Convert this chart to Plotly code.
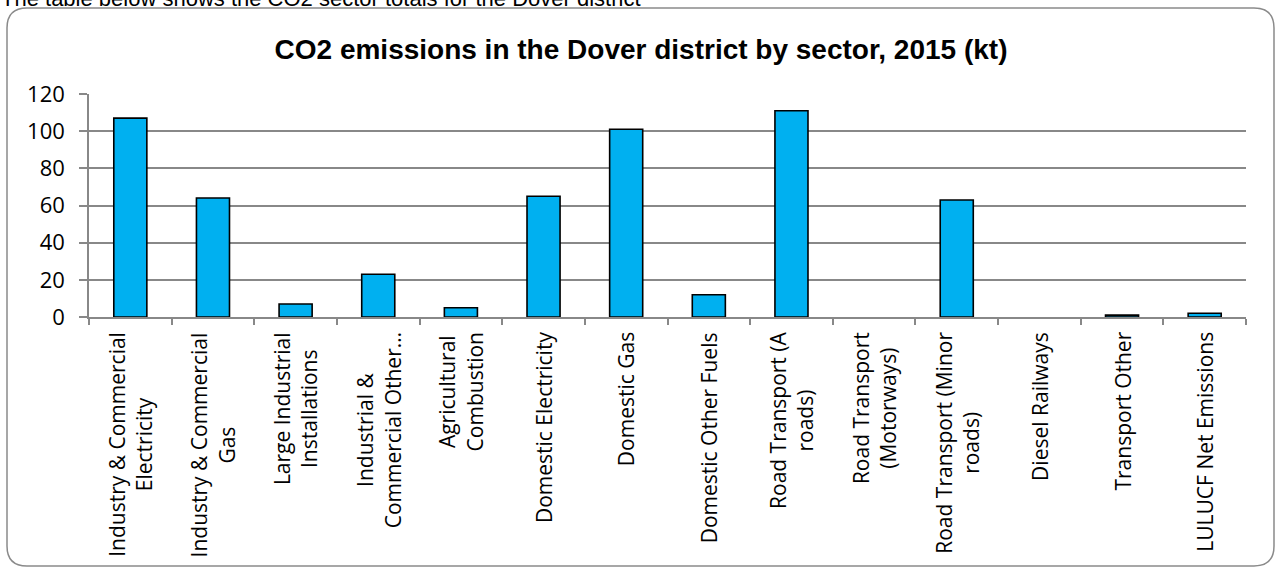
import plotly.graph_objects as go

# Sector totals (kt CO2), Dover district, 2015
sectors = [
    "Industry & Commercial<br>Electricity",
    "Industry & Commercial<br>Gas",
    "Large Industrial<br>Installations",
    "Industrial &<br>Commercial Other…",
    "Agricultural<br>Combustion",
    "Domestic Electricity",
    "Domestic Gas",
    "Domestic Other Fuels",
    "Road Transport (A<br>roads)",
    "Road Transport<br>(Motorways)",
    "Road Transport (Minor<br>roads)",
    "Diesel Railways",
    "Transport Other",
    "LULUCF Net Emissions",
]
emissions_kt = [107, 64, 7, 23, 5, 65, 101, 12, 111, 0, 63, 0, 1, 2]
y_ticks = [0, 20, 40, 60, 80, 100, 120]

W, H = 1276, 567
ML, MR, MT, MB = 89, 30, 94, 250
PW, PH = W - ML - MR, H - MT - MB


def px_x(x):
    return (x - ML) / PW


def px_y(y):
    return (H - MB - y) / PH


x_idx = list(range(len(sectors)))

# empty sectors get no outline so nothing is drawn for them
outline_w = [0 if v == 0 else 1.6 for v in emissions_kt]

fig = go.Figure(
    go.Bar(
        x=x_idx,
        y=emissions_kt,
        marker=dict(color="#00B0F0", line=dict(color="#000000", width=outline_w)),
        width=0.4,
        hoverinfo="y",
    )
)

grid = "#888888"
label_font = dict(family="Open Sans, sans-serif", size=21, color="#000000")

fig.update_xaxes(
    range=[-0.5, len(sectors) - 0.5],
    tickvals=[i - 0.5 for i in range(len(sectors) + 1)],
    ticktext=[""] * (len(sectors) + 1),
    ticks="outside",
    ticklen=6,
    tickwidth=1.5,
    tickcolor=grid,
    showline=True,
    linecolor=grid,
    linewidth=1.5,
    showgrid=False,
    zeroline=False,
    fixedrange=True,
)
fig.update_yaxes(
    range=[0, 120],
    tickvals=y_ticks,
    ticks="outside",
    ticklen=8,
    tickwidth=1.5,
    tickcolor=grid,
    tickfont=dict(family="Open Sans, sans-serif", size=22, color="#000000"),
    showline=True,
    linecolor=grid,
    linewidth=1.5,
    showgrid=True,
    gridcolor=grid,
    gridwidth=1.5,
    zeroline=False,
    ticklabelstandoff=10,
    fixedrange=True,
)

# Category labels, rotated and centred line by line
annotations = []
for i, name in enumerate(sectors):
    annotations.append(
        dict(
            x=i,
            xref="x",
            y=px_y(330),
            yref="paper",
            text=name,
            textangle=-90,
            showarrow=False,
            xanchor="center",
            yanchor="top",
            align="center",
            font=label_font,
        )
    )

# Intro sentence above the chart box
annotations.append(
    dict(
        x=px_x(-1),
        xref="paper",
        y=px_y(13),
        yref="paper",
        text="The table below shows the CO2 sector totals for the Dover district",
        showarrow=False,
        xanchor="left",
        yanchor="bottom",
        font=dict(family="Arial, Liberation Sans, sans-serif", size=22, color="#000000"),
    )
)

# Rounded chart frame
L, T, R, B, r = 7, 8, 1274, 566, 20
pts = [
    ("M", (L + r, T)),
    ("L", (R - r, T)),
    ("Q", (R, T), (R, T + r)),
    ("L", (R, B - r)),
    ("Q", (R, B), (R - r, B)),
    ("L", (L + r, B)),
    ("Q", (L, B), (L, B - r)),
    ("L", (L, T + r)),
    ("Q", (L, T), (L + r, T)),
]
path = ""
for cmd, *coords in pts:
    path += cmd + " " + " ".join(f"{px_x(cx):.5f},{px_y(cy):.5f}" for cx, cy in coords) + " "
path += "Z"

fig.update_layout(
    width=W,
    height=H,
    margin=dict(l=ML, r=MR, t=MT, b=MB),
    paper_bgcolor="#FFFFFF",
    plot_bgcolor="#FFFFFF",
    showlegend=False,
    bargap=0.6,
    title=dict(
        text="<b>CO2 emissions in the Dover district by sector, 2015 (kt)</b>",
        x=641 / W,
        xref="container",
        xanchor="center",
        y=1 - 49 / H,
        yref="container",
        yanchor="middle",
        font=dict(family="Arial, Liberation Sans, sans-serif", size=28, color="#000000"),
    ),
    annotations=annotations,
    shapes=[
        dict(
            type="path",
            path=path,
            xref="paper",
            yref="paper",
            line=dict(color="#8A8A8A", width=1.5),
            fillcolor="rgba(0,0,0,0)",
            layer="below",
        )
    ],
)

fig.write_html("out.html")
